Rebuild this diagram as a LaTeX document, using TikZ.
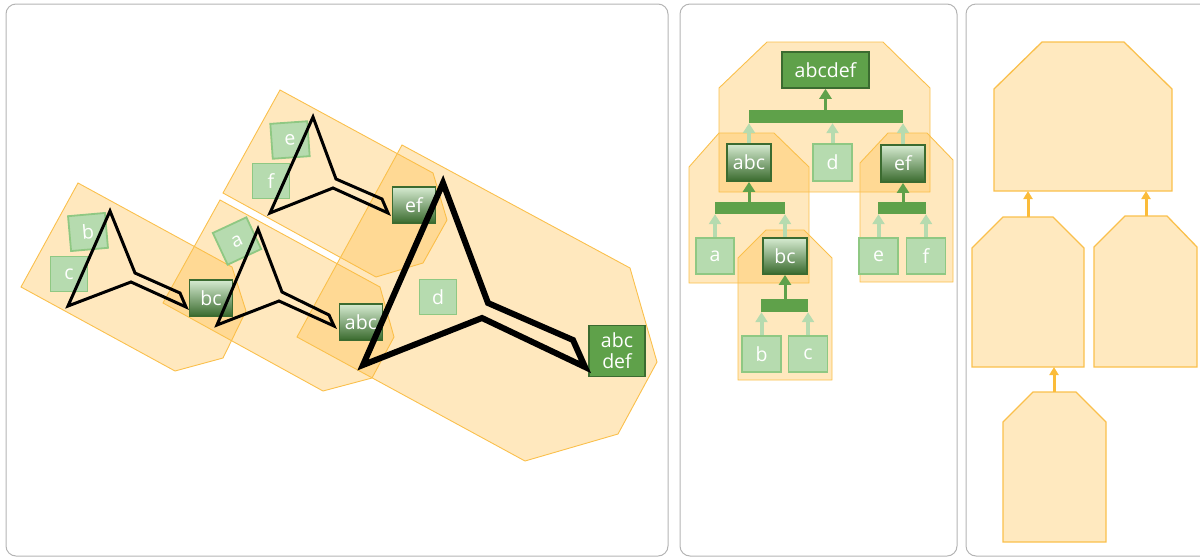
\documentclass[tikz,border=0pt]{standalone}
\usepackage{fontspec}
\setmainfont{Open Sans}
\usetikzlibrary{arrows.meta}
\definecolor{leaffill}{HTML}{B6DBAF}
\definecolor{leafborder}{HTML}{8FC883}
\definecolor{gtop}{HTML}{D6EBD1}
\definecolor{gbot}{HTML}{3A6B2E}
\definecolor{darkborder}{HTML}{3B6B30}
\definecolor{rootfill}{HTML}{5FA14A}
\definecolor{lightarrow}{HTML}{B6DBAF}
\definecolor{grpfill}{HTML}{FFBD45}
\definecolor{grpline}{HTML}{FAC04C}
\definecolor{solidgrp}{HTML}{FFE9BF}
\definecolor{panelline}{HTML}{B4B4B4}
\definecolor{orangearrow}{HTML}{FBBC3A}
\newcommand\boxfont{\fontsize{19.5}{21}\selectfont}
\tikzset{
  panel/.style={draw=panelline, line width=1pt, rounded corners=10pt},
  grp/.style={draw=grpline, fill=grpfill, fill opacity=0.35, line width=0.9pt},
  solidg/.style={draw=grpline, fill=solidgrp, line width=1.3pt},
  leaf/.style={draw=leafborder, fill=leaffill, line width=1.8pt, minimum width=37pt, minimum height=35pt, inner sep=0pt, text=white, font=\boxfont},
  midbox/.style={draw=darkborder, line width=1.8pt, top color=gtop, bottom color=gbot, minimum width=43pt, minimum height=36pt, inner sep=0pt, text=white, font=\boxfont},
  rootbox/.style={draw=darkborder, fill=rootfill, line width=1.5pt, inner sep=0pt, text=white, font=\boxfont},
  bar/.style={fill=rootfill, draw=none, inner sep=0pt},
  tri/.style={draw=black, line width=3pt, line join=miter},
  lightarr/.style={draw=lightarrow, line width=4pt, -{Triangle[length=10pt,width=12pt]}},
  darkarr/.style={draw=rootfill, line width=3pt, -{Triangle[length=10pt,width=12pt]}},
  oarr/.style={draw=orangearrow, line width=3pt, -{Triangle[length=8pt,width=9pt]}},
}
\begin{document}
\begin{tikzpicture}[x=1pt,y=-1pt]
\useasboundingbox (0,0) rectangle (1200,558);
\begin{scope}
\clip (0,0) rectangle (1200,558);
% panels
\draw[panel] (6,4) rectangle (668,556);
\draw[panel] (680,4) rectangle (957,556);
\draw[panel] (966,4) rectangle (1220,556);

% ---------- left panel ----------
\path[grp] (78,183) -- (232,267) -- (246,311) -- (223,358) -- (175,371) -- (21,287) -- cycle;
\path[grp] (220,200) -- (380,287) -- (394,337) -- (372,378) -- (323,391) -- (163,303) -- cycle;
\path[grp] (280,90) -- (433,173) -- (447,220) -- (423,263) -- (376,277) -- (223,193) -- cycle;
\path[grp] (402,145) -- (630,268) -- (657,362) -- (618,434) -- (525,461) -- (297,337) -- cycle;

\node[leaf, rotate=25] (la) at (237,241) {a};
\node[leaf, rotate=5] (lb) at (88,232) {b};
\node[leaf] (lc) at (69,274) {c};
\node[leaf, rotate=4] (le) at (290,140) {e};
\node[leaf] (lf) at (271,181) {f};
\node[leaf] (ld) at (438,297) {d};
\node[midbox] (lbc) at (211,298) {bc};
\node[midbox] (labc) at (361,322) {abc};
\node[midbox] (lef) at (414,205) {ef};
\node[rootbox, minimum width=56pt, minimum height=51pt, align=center] (labcdef) at (617,351) {abc\\def};

\draw[tri] (110,211) -- (135,273) -- (180,293) -- (186,307) -- (131,282) -- (68,306) -- cycle;
\draw[tri] (258,229) -- (282,292) -- (329,315) -- (334,326) -- (279,301) -- (217,325) -- cycle;
\draw[tri] (313,117) -- (336,179) -- (382,199) -- (388,213) -- (333,188) -- (270,213) -- cycle;
\draw[tri, line width=6pt] (443,183) -- (488,303) -- (573,340) -- (585,367) -- (482,318) -- (363,365) -- cycle;

% ---------- middle panel ----------
\path[grp] (719,192) -- (719,88) -- (767,42) -- (883,42) -- (930,88) -- (930,192) -- cycle;
\path[grp] (689,283) -- (689,167) -- (719,133) -- (774,133) -- (809,167) -- (809,283) -- cycle;
\path[grp] (860,282) -- (860,163) -- (888,133) -- (927,133) -- (953,160) -- (953,282) -- cycle;
\path[grp] (738,380) -- (738,258) -- (766,230) -- (804,230) -- (832,258) -- (832,380) -- cycle;

\node[rootbox, minimum width=87pt, minimum height=36pt] (mabcdef) at (825.5,70) {abcdef};
\node[bar, minimum width=154pt, minimum height=13pt] (barroot) at (826,116.5) {};
\node[midbox, minimum width=44pt, minimum height=37pt] (mabc) at (749,162.5) {abc};
\node[leaf, minimum width=39pt, minimum height=37pt] (md) at (832.5,162.5) {d};
\node[midbox, minimum width=44pt, minimum height=37pt] (mef) at (903,163.5) {ef};
\node[bar, minimum width=70pt, minimum height=12pt] (barabc) at (750,208) {};
\node[leaf, minimum width=38pt, minimum height=36pt] (ma) at (715,256) {a};
\node[midbox, minimum width=44pt, minimum height=36pt] (mbc) at (785,256) {bc};
\node[bar, minimum width=47pt, minimum height=13pt] (barbc) at (784.5,305.5) {};
\node[leaf, minimum width=39pt, minimum height=36pt] (mb) at (761.5,354) {b};
\node[leaf, minimum width=39pt, minimum height=36pt] (mc) at (808,354) {c};
\node[bar, minimum width=48pt, minimum height=12pt] (baref) at (902,208) {};
\node[leaf, minimum width=39pt, minimum height=36pt] (me) at (878.5,256) {e};
\node[leaf, minimum width=39pt, minimum height=36pt] (mf) at (926,256) {f};

\draw[darkarr] (barroot.north -| mabcdef) -- (mabcdef.south);
\draw[lightarr] (mabc.north) -- (mabc.north |- barroot.south);
\draw[lightarr] (md.north) -- (md.north |- barroot.south);
\draw[lightarr] (mef.north) -- (mef.north |- barroot.south);
\draw[darkarr] (barabc.north -| mabc) -- (mabc.south);
\draw[lightarr] (ma.north) -- (ma.north |- barabc.south);
\draw[lightarr] (mbc.north) -- (mbc.north |- barabc.south);
\draw[darkarr] (barbc.north -| mbc) -- (mbc.south);
\draw[lightarr] (mb.north) -- (mb.north |- barbc.south);
\draw[lightarr] (mc.north) -- (mc.north |- barbc.south);
\draw[darkarr] (baref.north -| mef) -- (mef.south);
\draw[lightarr] (me.north) -- (me.north |- baref.south);
\draw[lightarr] (mf.north) -- (mf.north |- baref.south);

% ---------- right panel ----------
\draw[solidg] (994,191) -- (994,89) -- (1042,42) -- (1124,42) -- (1172,89) -- (1172,191) -- cycle;
\draw[solidg] (972,367) -- (972,248) -- (1003,217) -- (1053,217) -- (1084,248) -- (1084,367) -- cycle;
\draw[solidg] (1094,367) -- (1094,247) -- (1125,216) -- (1167,216) -- (1197,247) -- (1197,367) -- cycle;
\draw[solidg] (1003,542) -- (1003,422) -- (1033,392) -- (1076,392) -- (1106,422) -- (1106,542) -- cycle;
\coordinate (rtopL) at (1028,191);
\coordinate (rtopR) at (1146,191);
\coordinate (rlT) at (1028,217);
\coordinate (rrT) at (1146,216);
\coordinate (rlB) at (1054,367);
\coordinate (rbT) at (1054,392);
\draw[oarr] (rlT) -- (rtopL);
\draw[oarr] (rrT) -- (rtopR);
\draw[oarr] (rbT) -- (rlB);
\end{scope}
\end{tikzpicture}
\end{document}
